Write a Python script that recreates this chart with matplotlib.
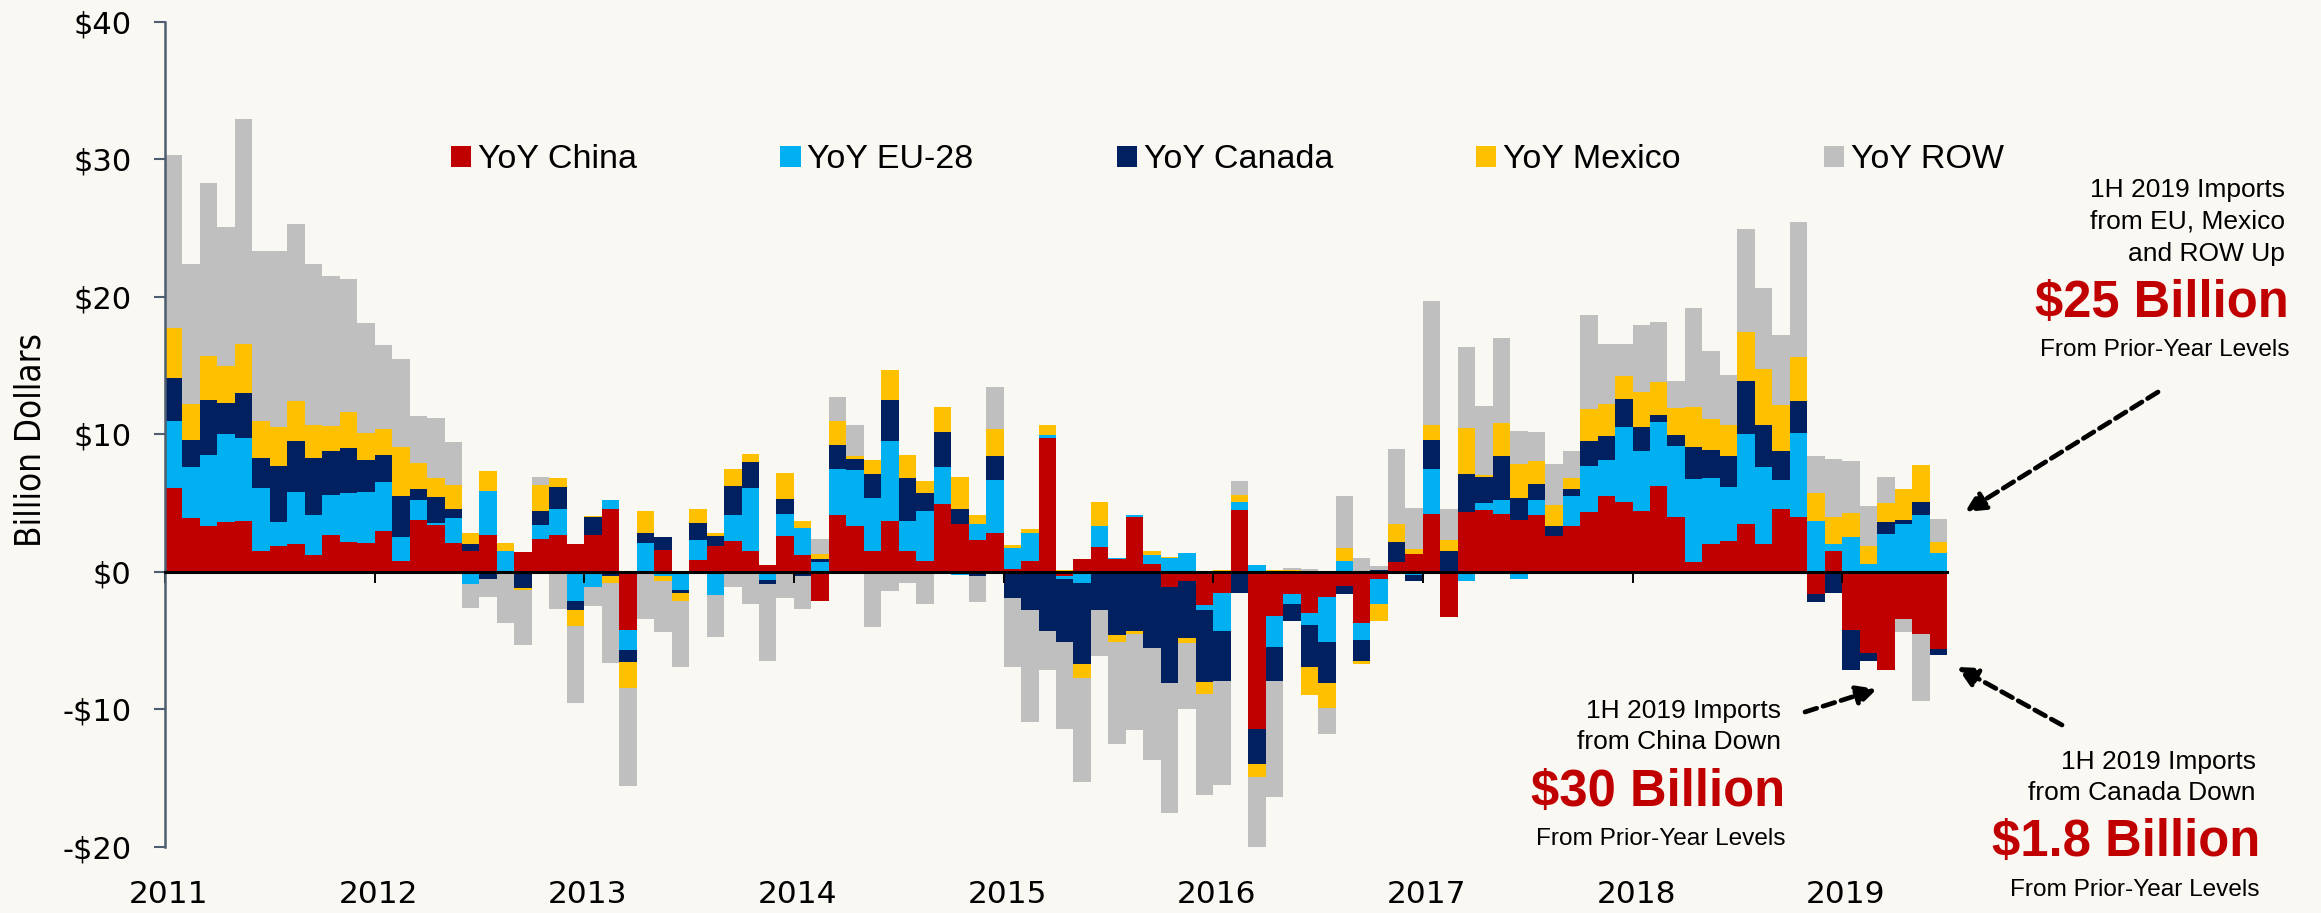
import numpy as np
import matplotlib.pyplot as plt
import matplotlib.font_manager as fm
from matplotlib.patches import Patch
from matplotlib.transforms import blended_transform_factory

# monthly year-over-year change in US imports, billion dollars (Jan 2011 - Jun 2019)
china = [6.1, 3.9, 3.3, 3.6, 3.7, 1.5, 1.9, 2.0, 1.2, 2.7, 2.2, 2.1,
         3.0, 0.8, 3.8, 3.4, 2.1, 1.5, 2.7, 0.0, 1.45, 2.4, 2.7, 2.0,
         2.7, 4.6, -4.2, 0.0, 1.6, 0.0, 0.85, 1.9, 2.25, 1.5, 0.5, 2.6,
         1.2, -2.1, 4.1, 3.3, 1.5, 3.7, 1.5, 0.8, 4.9, 3.5, 2.3, 2.8,
         0.2, 0.8, 9.7, -0.3, 0.9, 1.8, 0.9, 4.0, 0.6, -1.1, -0.7, -2.4,
         -1.5, 4.5, -11.4, -3.2, -1.6, -3.0, -1.8, -1.0, -3.75, -0.5, 0.7, 1.3,
         4.2, -3.3, 4.35, 4.5, 4.2, 3.75, 4.1, 2.6, 3.35, 4.35, 5.5, 5.1,
         4.45, 6.25, 4.0, 0.75, 2.0, 2.25, 3.45, 2.0, 4.55, 4.0, -1.6, 1.5,
         -4.25, -5.9, -7.1, -3.45, -4.55, -5.6]
eu = [4.9, 3.7, 5.2, 6.4, 6.0, 4.6, 1.7, 3.8, 2.9, 2.9, 3.5, 3.7,
      3.5, 1.7, 1.4, 0.15, 1.8, -0.9, 3.2, 1.5, 0.0, 1.0, 1.9, -2.1,
      -1.1, 0.6, -1.5, 2.1, -0.3, -1.3, 1.5, -1.7, 1.9, 4.6, -0.6, 1.6,
      2.0, 0.7, 3.4, 4.1, 3.9, 5.8, 2.2, 3.6, 2.7, -0.2, 1.2, 3.85,
      1.5, 2.0, 0.25, -0.2, -0.8, 1.5, 0.1, 0.1, 0.6, 1.0, 1.4, -0.4,
      -2.8, 0.6, 0.5, -2.25, -0.7, -0.85, -3.3, 0.8, -1.2, -1.8, 0.0, -0.25,
      3.3, 0.0, -0.65, 0.5, 1.0, -0.5, 1.1, 0.0, 2.2, 3.35, 2.65, 5.4,
      4.3, 4.65, 5.15, 6.0, 4.85, 3.9, 6.55, 5.6, 2.1, 6.1, 3.7, 0.5,
      2.55, 0.6, 2.75, 3.45, 4.15, 1.35]
canada = [3.1, 2.0, 4.0, 2.3, 3.3, 2.2, 4.1, 3.7, 4.2, 3.2, 3.3, 2.3,
          2.0, 3.0, 0.85, 1.9, 0.65, 0.5, -0.5, -0.15, -1.2, 1.0, 1.6, -0.7,
          1.3, -0.3, -0.85, 0.7, 0.9, -0.2, 1.2, 0.7, 2.1, 1.9, -0.3, 1.1,
          -0.3, 0.2, 1.7, 0.8, 1.7, 3.0, 3.1, 1.3, 2.6, 1.1, -0.3, 1.8,
          -1.9, -2.8, -4.3, -4.6, -5.9, -2.8, -4.6, -4.3, -5.5, -7.0, -4.1, -5.2,
          -3.6, -1.5, -2.6, -2.5, -1.3, -3.1, -3.0, -0.6, -1.55, 0.1, 1.45, -0.4,
          2.1, 1.5, 2.8, 1.9, 3.2, 1.6, 1.2, 0.7, 0.5, 1.8, 1.75, 2.1,
          1.8, 0.5, 0.8, 2.3, 2.0, 2.25, 3.9, 3.1, 2.15, 2.35, -0.6, -1.5,
          -2.85, -0.6, 0.85, 0.3, 0.95, -0.45]
mexico = [3.6, 2.6, 3.2, 2.7, 3.6, 2.7, 2.8, 2.9, 2.4, 1.8, 2.6, 2.0,
          1.9, 3.6, 1.85, 1.4, 1.8, 0.8, 1.45, 0.6, -0.12, 1.9, 0.6, -1.1,
          0.05, -0.5, -1.9, 1.6, -0.4, -0.6, 1.0, 0.25, 1.2, 0.6, 0.0, 1.9,
          0.5, 0.4, 1.8, 0.2, 1.0, 2.2, 1.7, 0.9, 1.8, 2.3, 0.65, 1.9,
          0.25, 0.3, 0.7, 0.1, -1.0, 1.8, -0.5, -0.2, 0.3, 0.1, -0.4, -0.85,
          0.1, 0.5, -0.9, 0.15, 0.1, -2.0, -1.8, 0.9, -0.2, -1.3, 1.3, 0.35,
          1.1, 0.8, 3.3, 0.15, 2.4, 2.5, 1.65, 1.55, 0.75, 2.35, 2.3, 1.65,
          2.5, 2.4, 1.95, 2.95, 2.25, 2.3, 3.55, 4.05, 3.3, 3.2, 2.05, 2.0,
          1.75, 1.3, 1.4, 2.3, 2.7, 0.85]
row = [12.6, 10.2, 12.6, 10.1, 16.3, 12.3, 12.8, 12.9, 11.7, 10.9, 9.7, 8.0,
       6.1, 6.4, 3.45, 4.3, 3.1, -1.75, -1.3, -3.55, -4.0, 0.6, -2.7, -5.6,
       -1.4, -5.8, -7.1, -3.4, -3.7, -4.8, 0.0, -3.0, -1.1, -2.3, -5.6, -1.9,
       -2.4, 1.1, 1.7, 2.3, -4.0, -1.4, -0.8, -2.3, 0.0, 0.0, -1.9, 3.1,
       -5.0, -8.1, -2.8, -6.3, -7.6, -3.3, -7.4, -7.0, -8.2, -9.4, -4.8, -7.4,
       -7.6, 1.0, -5.2, -8.4, 0.2, 0.2, -1.9, 3.8, 1.0, 0.3, 5.5, 3.0,
       9.0, 2.25, 5.9, 5.0, 6.2, 2.4, 2.1, 3.0, 2.0, 6.85, 4.35, 2.35,
       4.9, 4.35, 2.0, 7.15, 4.95, 3.6, 7.45, 5.85, 5.15, 9.8, 2.7, 4.2,
       3.75, 2.9, 1.9, -0.9, -4.85, 1.65]

labels = ['YoY China', 'YoY EU-28', 'YoY Canada', 'YoY Mexico', 'YoY ROW']
colors = ['#C00000', '#00B0F0', '#002060', '#FFC000', '#BFBFBF']
years = [2011, 2012, 2013, 2014, 2015, 2016, 2017, 2018, 2019]
yticks = [-20, -10, 0, 10, 20, 30, 40]

W, H = 2321, 913
bg = '#FAF8F3'
spine_col = '#4E5D70'

names = {f.name for f in fm.fontManager.ttflist}
sans = 'Liberation Sans' if 'Liberation Sans' in names else 'DejaVu Sans'


def fx(x):
    return x / W


def fy(y):
    return 1 - y / H


fig = plt.figure(figsize=(W / 100, H / 100), dpi=100, facecolor=bg)
ax = fig.add_axes([fx(165), fy(847), fx(1947) - fx(165), fy(21.6) - fy(847)])
ax.set_facecolor(bg)

n = len(china)
months = np.arange(n)
pos_base = np.zeros(n)
neg_base = np.zeros(n)
for vals, col, lab in zip([china, eu, canada, mexico, row], colors, labels):
    v = np.array(vals, dtype=float)
    base = np.where(v >= 0, pos_base, neg_base)
    ax.bar(months, v, width=1.0, bottom=base, align='edge', color=col,
           linewidth=0, label=lab, zorder=1)
    pos_base += np.clip(v, 0, None)
    neg_base += np.clip(v, None, 0)

ax.set_xlim(0, n)
ax.set_ylim(-20, 40)

for s in ['top', 'right']:
    ax.spines[s].set_visible(False)
ax.spines['left'].set_color(spine_col)
ax.spines['left'].set_linewidth(1.8)
ax.spines['bottom'].set_position(('data', 0))
ax.spines['bottom'].set_color('black')
ax.spines['bottom'].set_linewidth(2.2)
ax.spines['bottom'].set_zorder(3)

ax.set_yticks(yticks)
ax.set_yticklabels([f'${v}' if v >= 0 else f'-${-v}' for v in yticks],
                   fontsize=22, family='DejaVu Sans')
ax.tick_params(axis='y', direction='out', length=8, width=1.5,
               color=spine_col, pad=16)

ax.set_xticks([12 * i for i in range(len(years))])
ax.set_xticklabels([])
ax.tick_params(axis='x', direction='out', length=8, width=1.4, color='black')

trans = blended_transform_factory(ax.transData, fig.transFigure)
for i, yr in enumerate(years):
    ax.text(12 * i + 0.2, fy(894), str(yr), transform=trans, ha='center',
            va='center', fontsize=22.5, family='DejaVu Sans')

fig.text(fx(31), fy(440), 'Billion Dollars', rotation=90, ha='center',
         va='center', fontsize=25, family='DejaVu Sans',
         fontstretch='condensed')

handles = [Patch(facecolor=c, edgecolor='none') for c in colors]
ax.legend(handles, labels, ncol=5, loc='center left',
          bbox_to_anchor=(fx(451), fy(160)), bbox_transform=fig.transFigure,
          frameon=False, prop={'family': sans, 'size': 24.5},
          handlelength=0.6, handleheight=0.6, handletextpad=0.2,
          columnspacing=4.2, borderpad=0, borderaxespad=0)

# annotations
red = '#C00000'
notes = [
    (2285, [(190, '1H 2019 Imports'), (222, 'from EU, Mexico'), (254, 'and ROW Up')],
     (303, '$25 Billion'), 350),
    (1781, [(711, '1H 2019 Imports'), (742, 'from China Down')],
     (792, '$30 Billion'), 839),
    (2256, [(762, '1H 2019 Imports'), (793, 'from Canada Down')],
     (842, '$1.8 Billion'), 890),
]
for xr, lines, big, ysub in notes:
    for yy, t in lines:
        fig.text(fx(xr), fy(yy), t, ha='right', va='center', fontsize=19,
                 family=sans)
    fig.text(fx(xr + 4), fy(big[0]), big[1], ha='right', va='center',
             fontsize=36.5, fontweight='bold', color=red, family=sans)
    fig.text(fx(xr + 4), fy(ysub), 'From Prior-Year Levels', ha='right',
             va='center', fontsize=17.6, family=sans)

arrows = [((2158, 392), (1965, 512)),
          ((1805, 712), (1877, 689)),
          ((2062, 725), (1957, 667))]
for (x0, y0), (x1, y1) in arrows:
    ax.annotate('', xy=(x1, H - y1), xytext=(x0, H - y0),
                xycoords='figure pixels', textcoords='figure pixels',
                arrowprops=dict(arrowstyle='-|>', color='black', lw=3.4,
                                linestyle=(0, (2.6, 1.4)),
                                mutation_scale=30, shrinkA=0, shrinkB=0))

fig.savefig('out.png', dpi=100, facecolor=bg)
